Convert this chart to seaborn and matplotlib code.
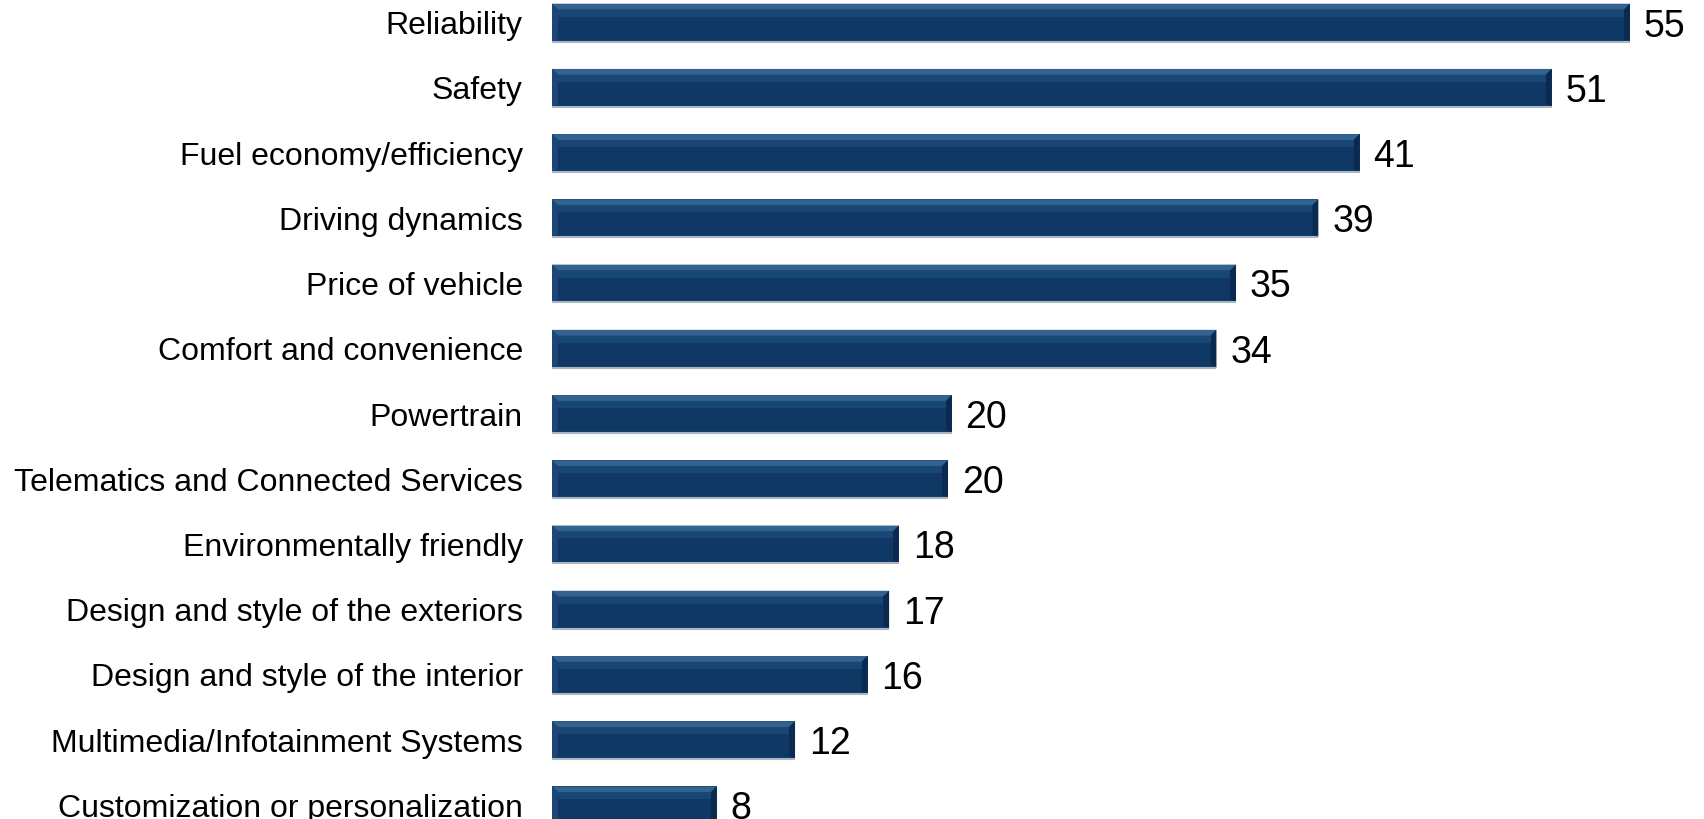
import matplotlib
matplotlib.use("Agg")
import matplotlib.pyplot as plt
import seaborn as sns
import pandas as pd
from matplotlib.patches import Polygon

categories = [
    "Reliability", "Safety", "Fuel economy/efficiency", "Driving dynamics",
    "Price of vehicle", "Comfort and convenience", "Powertrain",
    "Telematics and Connected Services", "Environmentally friendly",
    "Design and style of the exteriors", "Design and style of the interior",
    "Multimedia/Infotainment Systems", "Customization or personalization",
]
values = [55.0, 51.0, 41.2, 39.1, 34.9, 33.9, 20.4, 20.2, 17.7, 17.2, 16.1, 12.4, 8.4]
value_labels = ["55", "51", "41", "39", "35", "34", "20", "20", "18", "17", "16", "12", "8"]

df = pd.DataFrame({"category": categories, "value": values})

sns.set_theme(style="white")
plt.rcParams["font.family"] = ["Liberation Sans", "DejaVu Sans"]

W, H = 1704, 819
fig = plt.figure(figsize=(W / 100, H / 100), dpi=100)
ax = fig.add_axes([552 / W, (819 - 838) / H, (58 * 19.6) / W, 848 / H])

bar_color = "#0F3864"
sns.barplot(data=df, y="category", x="value", orient="h", color=bar_color,
            width=0.58, saturation=1, ax=ax, edgecolor="none")

ax.set_xlim(0, 58)
ax.set_ylim(12.5, -0.5)

# bevel overlays computed from each drawn bar
bx = 0.3   # horizontal bevel in data units
by = 0.09  # vertical bevel in data units
for p in ax.patches:
    x0, y0 = p.get_x(), p.get_y()
    w, h = p.get_width(), p.get_height()
    x1, y1 = x0 + w, y0 + h  # y0 is top (inverted axis), y1 bottom
    ax.add_patch(Polygon([(x0, y0), (x1, y0), (x1 - bx, y0 + by), (x0 + bx, y0 + by)],
                         closed=True, facecolor="#33628F", edgecolor="none", zorder=3))
    ax.add_patch(Polygon([(x0, y0), (x0 + bx, y0 + by), (x0 + bx, y1 - by * 0.5), (x0, y1)],
                         closed=True, facecolor="#1B4677", edgecolor="none", zorder=3))
    ax.add_patch(Polygon([(x1, y0), (x1 - bx, y0 + by), (x1 - bx, y1 - by * 0.5), (x1, y1)],
                         closed=True, facecolor="#0A2A4F", edgecolor="none", zorder=3))
    ax.add_patch(Polygon([(x0 + bx, y0 + by), (x1 - bx, y0 + by), (x1 - bx, y0 + by * 2.2), (x0 + bx, y0 + by * 2.2)],
                         closed=True, facecolor="#1B4A7A", edgecolor="none", zorder=3, alpha=0.8))
    ax.plot([x0, x1], [y1, y1], color="#A9B6C8", lw=1.5, zorder=4, solid_capstyle="butt")

for i, (v, lab) in enumerate(zip(values, value_labels)):
    ax.text(v + 0.7, i + 0.06, lab, va="center", ha="left", fontsize=27, color="#000000")

ax.set_xlabel("")
ax.set_ylabel("")
ax.set_xticks([])
ax.tick_params(axis="y", length=0, pad=21, labelsize=23, labelcolor="#000000")
for s in ax.spines.values():
    s.set_visible(False)

fig.savefig("out.png", dpi=100, facecolor="white")
